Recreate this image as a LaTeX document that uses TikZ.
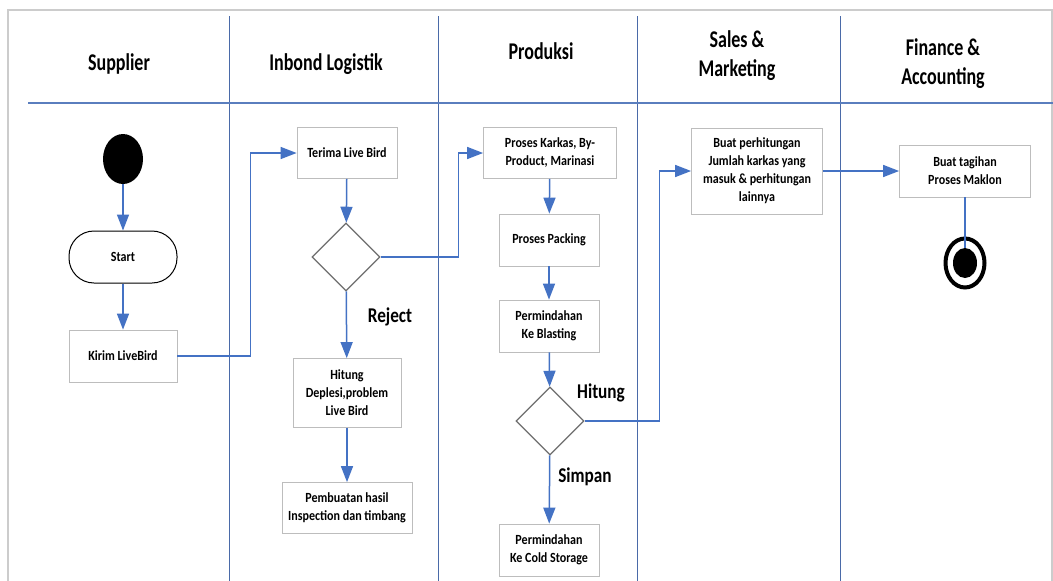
\documentclass[tikz,border=0pt]{standalone}
\usepackage{fontspec}
\setmainfont{Carlito}
\newfontfamily\hdrfont{Carlito}[FakeStretch=0.75]
\newfontfamily\boxfont{Carlito}[FakeStretch=0.86]
\newfontfamily\lblfont{Carlito}[FakeStretch=0.82]
\usetikzlibrary{arrows.meta,shapes.geometric}
\definecolor{flowblue}{HTML}{4472C4}
\definecolor{lanecol}{HTML}{4A6AA8}
\definecolor{hdrline}{HTML}{5A7EBE}
\definecolor{boxgray}{HTML}{BDBDBD}
\definecolor{diagray}{HTML}{6E6E6E}
\definecolor{framegray}{HTML}{CCCCCC}
\begin{document}
\begin{tikzpicture}[x=1pt,y=-1pt,
  box/.style={draw=boxgray, line width=0.8pt, fill=white, align=center, inner sep=2pt,
    font=\boxfont\bfseries\fontsize{14}{18}\selectfont, text=black},
  decision/.style={draw=diagray, diamond, line width=1.2pt, minimum width=68pt,
    minimum height=68pt, inner sep=0pt, fill=white},
  flow/.style={draw=flowblue, line width=1.5pt, -{Triangle[length=16pt,width=12pt]}},
  plainflow/.style={draw=flowblue, line width=1.2pt},
  hdr/.style={font=\hdrfont\bfseries\fontsize{24}{29}\selectfont, align=center, inner sep=0pt},
  lbl/.style={font=\lblfont\bfseries\fontsize{21}{24}\selectfont, inner sep=0pt},
  lane/.style={draw=lanecol, line width=1pt}]
\useasboundingbox (0,0) rectangle (1053,581);
\fill[white] (0,0) rectangle (1053,581);
% frame
\draw[framegray, line width=1.5pt] (8,590) -- (8,10) -- (1052,10) -- (1052,590);
% lanes
\coordinate (l1t) at (229,16); \coordinate (l1b) at (229,581);
\coordinate (l2t) at (438,16); \coordinate (l2b) at (438,581);
\coordinate (l3t) at (637,16); \coordinate (l3b) at (637,581);
\coordinate (l4t) at (840,16); \coordinate (l4b) at (840,581);
\coordinate (hl) at (28,103); \coordinate (hr) at (1053,103);
\draw[lane] (l1t) -- (l1b);
\draw[lane] (l2t) -- (l2b);
\draw[lane] (l3t) -- (l3b);
\draw[lane] (l4t) -- (l4b);
\draw[draw=hdrline, line width=2pt] (hl) -- (hr);
% headers
\node[hdr] (h1) at (119,64) {Supplier};
\node[hdr] (h2) at (326,64) {Inbond Logistik};
\node[hdr] (h3) at (541,51) {Produksi};
\node[hdr] (h4) at (737,56) {Sales \&\\Marketing};
\node[hdr] (h5) at (943,64) {Finance \&\\Accounting};
% supplier lane
\node[fill=black, ellipse, minimum width=40pt, minimum height=50pt, inner sep=0pt] (start) at (123,159) {};
\node[box, draw=black, line width=1pt, rounded corners=25pt, minimum width=108pt, minimum height=52pt] (startbox) at (123,257) {Start};
\node[box, minimum width=108pt, minimum height=52pt] (kirim) at (123,356) {Kirim LiveBird};
% inbond lane
\node[box, minimum width=100pt, minimum height=51pt] (terima) at (347,153) {Terima Live Bird};
\node[decision] (d1) at (346,257) {};
\node[box, minimum width=108pt, minimum height=69pt] (hitung) at (347,393) {Hitung\\Deplesi,problem\\Live Bird};
\node[box, minimum width=130pt, minimum height=51pt] (pembuatan) at (347,508) {Pembuatan hasil\\Inspection dan timbang};
% produksi lane
\node[box, minimum width=133pt, minimum height=51pt] (karkas) at (550,153) {Proses Karkas, By-\\Product, Marinasi};
\node[box, minimum width=100pt, minimum height=52pt] (packing) at (549,240) {Proses Packing};
\node[box, minimum width=100pt, minimum height=52pt] (blasting) at (549,326) {Permindahan\\Ke Blasting};
\node[decision] (d2) at (550,421) {};
\node[box, minimum width=100pt, minimum height=52pt] (cold) at (549,550) {Permindahan\\Ke Cold Storage};
% sales lane
\node[box, minimum width=131pt, minimum height=86pt] (perhit) at (757,171) {Buat perhitungan\\Jumlah karkas yang\\masuk \& perhitungan\\lainnya};
% finance lane
\node[box, minimum width=131pt, minimum height=52pt] (tagihan) at (965,171) {Buat tagihan\\Proses Maklon};
\node[draw=black, ellipse, line width=4pt, minimum width=39pt, minimum height=49pt, inner sep=0pt, fill=white] (end) at (965,263) {};
\node[fill=black, ellipse, minimum width=24pt, minimum height=30pt, inner sep=0pt] (endin) at (965,263) {};
% labels
\node[lbl] (lreject) at (390,317) {Reject};
\node[lbl] (lhitung) at (601,393) {Hitung};
\node[lbl] (lsimpan) at (585,477) {Simpan};
% connectors
\draw[flow] (start) -- (startbox);
\draw[flow] (startbox) -- (kirim);
\draw[flow] (kirim.east) -- ++(73,0) |- (terima.west);
\draw[flow] (terima) -- (d1);
\draw[flow] (d1) -- (hitung);
\draw[flow] (hitung) -- (pembuatan);
\draw[flow] (d1.east) -- ++(78,0) |- (karkas.west);
\draw[flow] (karkas) -- (packing);
\draw[flow] (packing) -- (blasting);
\draw[flow] (blasting) -- (d2);
\draw[flow] (d2) -- (cold);
\draw[flow] (d2.east) -- ++(75,0) |- (perhit.west);
\draw[flow] (perhit.east) -- (tagihan.west);
\draw[plainflow] (tagihan.south) -- (endin.north);
\end{tikzpicture}
\end{document}
